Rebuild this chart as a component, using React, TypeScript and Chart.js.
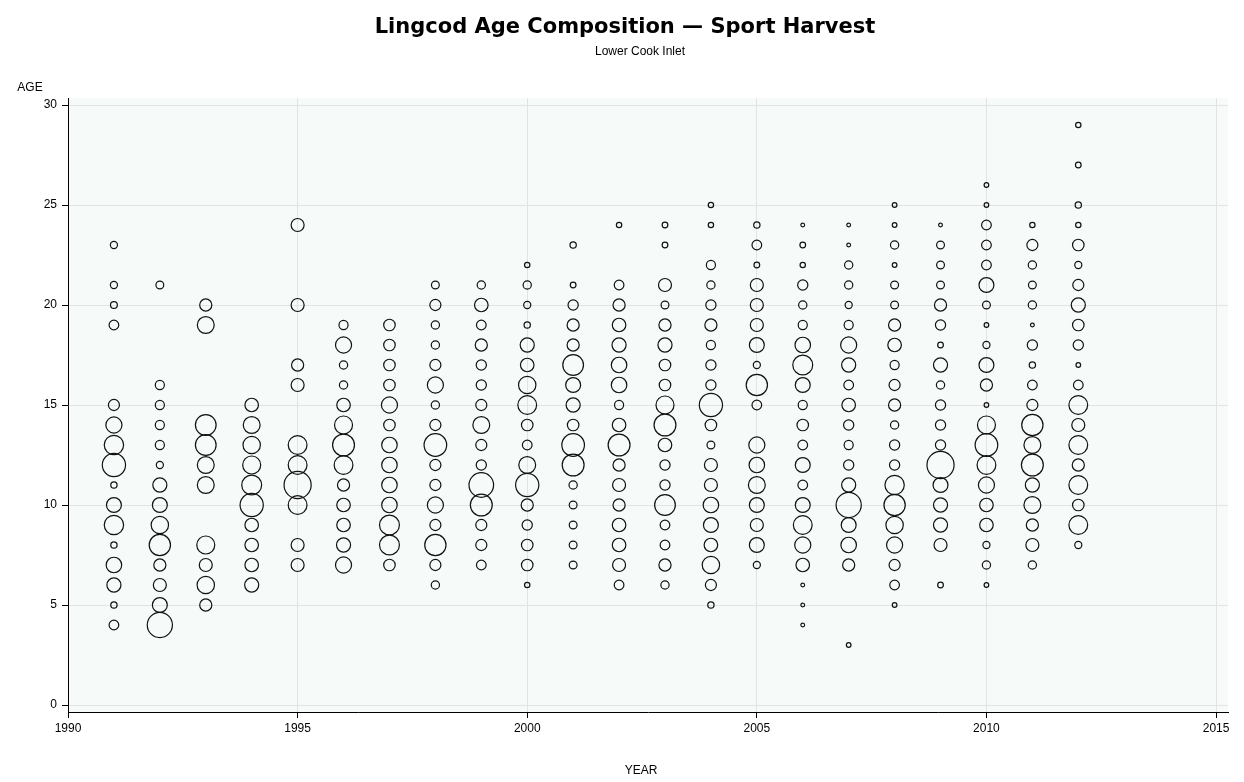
import { useEffect, useRef } from "react";
import { Chart, registerables } from "chart.js";

Chart.register(...registerables);

const TITLE = "Lingcod Age Composition \u2014 Sport Harvest";
const SUBTITLE = "Lower Cook Inlet";
const Y_LABEL = "AGE";
const X_LABEL = "YEAR";

const xTicks = [1990, 1995, 2000, 2005, 2010, 2015];
const yTicks = [0, 5, 10, 15, 20, 25, 30];

const years = [1991, 1992, 1993, 1994, 1995, 1996, 1997, 1998, 1999, 2000, 2001, 2002, 2003, 2004, 2005, 2006, 2007, 2008, 2009, 2010, 2011, 2012];

// [age, percent of sample] per year
const comp1991 = [[4, 2.6], [5, 1.1], [6, 5.5], [7, 6.7], [8, 1.1], [9, 10.4], [10, 6.2], [11, 1.1], [12, 15.0], [13, 10.4], [14, 7.2], [15, 3.4], [19, 2.6], [20, 1.3], [21, 1.4], [23, 1.4]];
const comp1992 = [[4, 17.6], [5, 6.2], [6, 4.7], [7, 4.1], [8, 12.6], [9, 8.4], [10, 6.2], [11, 5.5], [12, 1.4], [13, 2.3], [14, 2.3], [15, 2.3], [16, 2.3], [21, 1.7]];
const comp1993 = [[5, 4.1], [6, 8.4], [7, 4.7], [8, 9.0], [11, 7.9], [12, 7.9], [13, 11.9], [14, 11.9], [19, 7.9], [20, 4.1]];
const comp1994 = [[6, 5.5], [7, 5.1], [8, 5.1], [9, 5.1], [10, 15.0], [11, 11.0], [12, 9.0], [13, 8.4], [14, 7.9], [15, 5.1]];
const comp1995 = [[7, 4.7], [8, 4.7], [10, 9.8], [11, 20.4], [12, 9.8], [13, 9.8], [16, 4.7], [17, 4.1], [20, 4.7], [24, 4.7]];
const comp1996 = [[7, 7.2], [8, 5.5], [9, 5.1], [10, 5.1], [11, 4.1], [12, 9.8], [13, 13.3], [14, 9.0], [15, 5.1], [16, 1.9], [17, 1.9], [18, 7.2], [19, 2.3]];
const comp1997 = [[7, 3.7], [8, 11.0], [9, 11.0], [10, 6.7], [11, 6.7], [12, 6.7], [13, 6.7], [14, 3.7], [15, 7.2], [16, 3.7], [17, 3.7], [18, 3.7], [19, 3.7]];
const comp1998 = [[6, 1.9], [7, 3.4], [8, 12.6], [9, 3.4], [10, 7.2], [11, 3.4], [12, 3.4], [13, 14.2], [14, 3.4], [15, 1.9], [16, 7.2], [17, 3.4], [18, 1.9], [19, 1.9], [20, 3.4], [21, 1.7]];
const comp1999 = [[7, 2.6], [8, 3.4], [9, 3.4], [10, 13.3], [11, 16.8], [12, 2.9], [13, 3.4], [14, 7.9], [15, 3.4], [16, 2.9], [17, 2.9], [18, 4.1], [19, 2.6], [20, 5.1], [21, 1.9]];
const comp2000 = [[6, 0.8], [7, 3.7], [8, 3.7], [9, 2.9], [10, 4.1], [11, 15.0], [12, 7.9], [13, 2.6], [14, 3.7], [15, 9.8], [16, 8.4], [17, 5.1], [18, 5.5], [19, 1.1], [20, 1.4], [21, 1.9], [22, 0.8]];
const comp2001 = [[7, 1.7], [8, 1.7], [9, 1.7], [10, 1.7], [11, 1.9], [12, 13.3], [13, 14.2], [14, 3.7], [15, 5.5], [16, 6.2], [17, 11.9], [18, 4.1], [19, 4.1], [20, 2.9], [21, 0.9], [23, 1.1]];
const comp2002 = [[6, 2.6], [7, 4.7], [8, 5.1], [9, 5.1], [10, 4.1], [11, 4.7], [12, 4.1], [13, 13.3], [14, 5.1], [15, 2.3], [16, 6.7], [17, 6.7], [18, 5.5], [19, 5.1], [20, 4.1], [21, 2.6], [24, 0.8]];
const comp2003 = [[6, 1.9], [7, 4.1], [8, 2.6], [9, 2.6], [10, 11.9], [11, 2.9], [12, 2.9], [13, 5.1], [14, 13.3], [15, 9.0], [16, 3.7], [17, 3.7], [18, 5.5], [19, 4.1], [20, 1.7], [21, 4.7], [23, 0.9], [24, 0.9]];
const comp2004 = [[5, 1.1], [6, 3.4], [7, 8.4], [8, 5.1], [9, 6.2], [10, 6.7], [11, 4.7], [12, 4.7], [13, 1.7], [14, 3.7], [15, 15.0], [16, 2.9], [17, 2.9], [18, 2.3], [19, 4.1], [20, 2.9], [21, 1.9], [22, 2.3], [24, 0.8], [25, 0.8]];
const comp2005 = [[7, 1.4], [8, 6.2], [9, 4.7], [10, 6.2], [11, 7.9], [12, 6.7], [13, 7.2], [15, 2.6], [16, 12.6], [17, 1.4], [18, 6.2], [19, 4.7], [20, 4.7], [21, 4.7], [22, 0.9], [23, 2.6], [24, 1.1]];
const comp2006 = [[4, 0.4], [5, 0.4], [6, 0.4], [7, 5.1], [8, 7.2], [9, 9.8], [10, 6.2], [11, 2.6], [12, 6.2], [13, 2.6], [14, 3.7], [15, 2.3], [16, 6.2], [17, 11.0], [18, 6.7], [19, 2.3], [20, 1.9], [21, 2.9], [22, 0.8], [23, 0.9], [24, 0.4]];
const comp2007 = [[3, 0.6], [7, 4.1], [8, 6.7], [9, 6.2], [10, 17.6], [11, 5.5], [12, 2.9], [13, 2.3], [14, 2.9], [15, 5.1], [16, 2.6], [17, 5.5], [18, 7.2], [19, 2.3], [20, 1.4], [21, 1.9], [22, 1.9], [23, 0.4], [24, 0.4]];
const comp2008 = [[5, 0.6], [6, 2.6], [7, 3.4], [8, 7.2], [9, 8.4], [10, 12.6], [11, 10.4], [12, 2.9], [13, 2.9], [14, 1.9], [15, 4.1], [16, 3.4], [17, 2.3], [18, 5.1], [19, 4.1], [20, 1.7], [21, 1.7], [22, 0.6], [23, 1.9], [24, 0.6], [25, 0.6]];
const comp2009 = [[6, 0.9], [8, 4.7], [9, 5.5], [10, 5.5], [11, 6.2], [12, 20.4], [13, 2.9], [14, 2.9], [15, 2.9], [16, 1.9], [17, 5.5], [18, 0.9], [19, 2.9], [20, 4.1], [21, 1.7], [22, 1.7], [23, 1.7], [24, 0.4]];
const comp2010 = [[6, 0.6], [7, 1.9], [8, 1.4], [9, 5.1], [10, 5.1], [11, 7.2], [12, 9.8], [13, 14.2], [14, 9.0], [15, 0.6], [16, 4.1], [17, 6.2], [18, 1.4], [19, 0.6], [20, 1.7], [21, 6.2], [22, 2.6], [23, 2.6], [24, 2.6], [25, 0.6], [26, 0.6]];
const comp2011 = [[7, 1.9], [8, 4.7], [9, 4.1], [10, 7.9], [11, 5.5], [12, 13.3], [13, 7.9], [14, 12.6], [15, 3.4], [16, 2.6], [17, 1.1], [18, 2.9], [19, 0.4], [20, 1.9], [21, 1.7], [22, 1.9], [23, 3.4], [24, 0.8]];
const comp2012 = [[8, 1.4], [9, 9.8], [10, 3.7], [11, 9.8], [12, 4.1], [13, 9.8], [14, 4.7], [15, 9.8], [16, 2.6], [17, 0.6], [18, 2.9], [19, 3.7], [20, 5.5], [21, 3.4], [22, 1.4], [23, 3.7], [24, 0.8], [25, 1.1], [27, 0.9], [29, 0.8]];

const compositions = [comp1991, comp1992, comp1993, comp1994, comp1995, comp1996, comp1997, comp1998, comp1999, comp2000, comp2001, comp2002, comp2003, comp2004, comp2005, comp2006, comp2007, comp2008, comp2009, comp2010, comp2011, comp2012];

const BUBBLE_K = 3.0; // radius (px) per sqrt(percent): bubble area proportional to percent

const FONT = '"Liberation Sans", Arial, Helvetica, sans-serif';
const TITLE_FONT = '"DejaVu Sans", "Liberation Sans", Arial, sans-serif';

const bgPlugin = {
  id: "plotBg",
  beforeDraw(chart: any) {
    const { ctx, chartArea } = chart;
    ctx.save();
    ctx.fillStyle = "#ffffff";
    ctx.fillRect(0, 0, chart.width, chart.height);
    ctx.fillStyle = "#f6faf8";
    ctx.fillRect(chartArea.left, chartArea.top, chartArea.right - chartArea.left, chartArea.bottom - chartArea.top);
    ctx.restore();
  },
};

const textPlugin = {
  id: "texts",
  afterDraw(chart: any) {
    const { ctx, chartArea } = chart;
    ctx.save();
    ctx.fillStyle = "#000";
    ctx.textAlign = "center";
    ctx.textBaseline = "middle";
    ctx.font = `bold 21px ${TITLE_FONT}`;
    ctx.fillText(TITLE, 625, 28);
    ctx.font = `12px ${FONT}`;
    ctx.fillText(SUBTITLE, 640, 52);
    ctx.fillText(Y_LABEL, 30, chartArea.top - 10);
    ctx.fillText(X_LABEL, 641, 771);
    ctx.restore();
  },
};

export default function App() {
  const ref = useRef<HTMLCanvasElement | null>(null);

  useEffect(() => {
    document.body.style.margin = "0";
    const data: { x: number; y: number; r: number }[] = [];
    years.forEach((yr, i) => {
      compositions[i].forEach(([age, pct]) => {
        data.push({ x: yr, y: age, r: BUBBLE_K * Math.sqrt(pct) });
      });
    });

    const chart = new Chart(ref.current as HTMLCanvasElement, {
      type: "bubble",
      data: {
        datasets: [
          {
            data,
            borderColor: "#111",
            backgroundColor: "rgba(0,0,0,0)",
            borderWidth: 1.2,
            hoverRadius: 0,
          } as any,
        ],
      },
      plugins: [bgPlugin, textPlugin],
      options: {
        animation: false,
        responsive: true,
        maintainAspectRatio: false,
        events: [],
        layout: { padding: { top: 98, left: 0, right: 16, bottom: 0 } },
        plugins: {
          legend: { display: false },
          tooltip: { enabled: false },
          title: { display: false },
        },
        scales: {
          x: {
            type: "linear",
            min: 1990,
            max: 2015.26,
            afterFit(scale: any) {
              scale.height = 70;
            },
            afterBuildTicks(scale: any) {
              scale.ticks = xTicks.map((v) => ({ value: v }));
            },
            ticks: {
              color: "#000",
              font: { family: FONT, size: 12 },
              padding: 3,
              maxRotation: 0,
              autoSkip: false,
              callback: (v: any) => String(v),
            },
            grid: { color: "#e2e4e3", tickColor: "#000", tickLength: 6, lineWidth: 1 },
            border: { color: "#000", width: 1 },
          },
          y: {
            type: "linear",
            min: -0.35,
            max: 30.35,
            afterFit(scale: any) {
              scale.width = 68;
            },
            afterBuildTicks(scale: any) {
              scale.ticks = yTicks.map((v) => ({ value: v }));
            },
            ticks: {
              color: "#000",
              font: { family: FONT, size: 12 },
              padding: 5,
              autoSkip: false,
              callback: (v: any) => String(v),
            },
            grid: { color: "#e2e4e3", tickColor: "#000", tickLength: 6, lineWidth: 1 },
            border: { color: "#000", width: 1 },
          },
        },
      },
    });
    return () => chart.destroy();
  }, []);

  return (
    <div style={{ position: "relative", width: 1244, height: 782 }}>
      <canvas ref={ref} />
    </div>
  );
}
